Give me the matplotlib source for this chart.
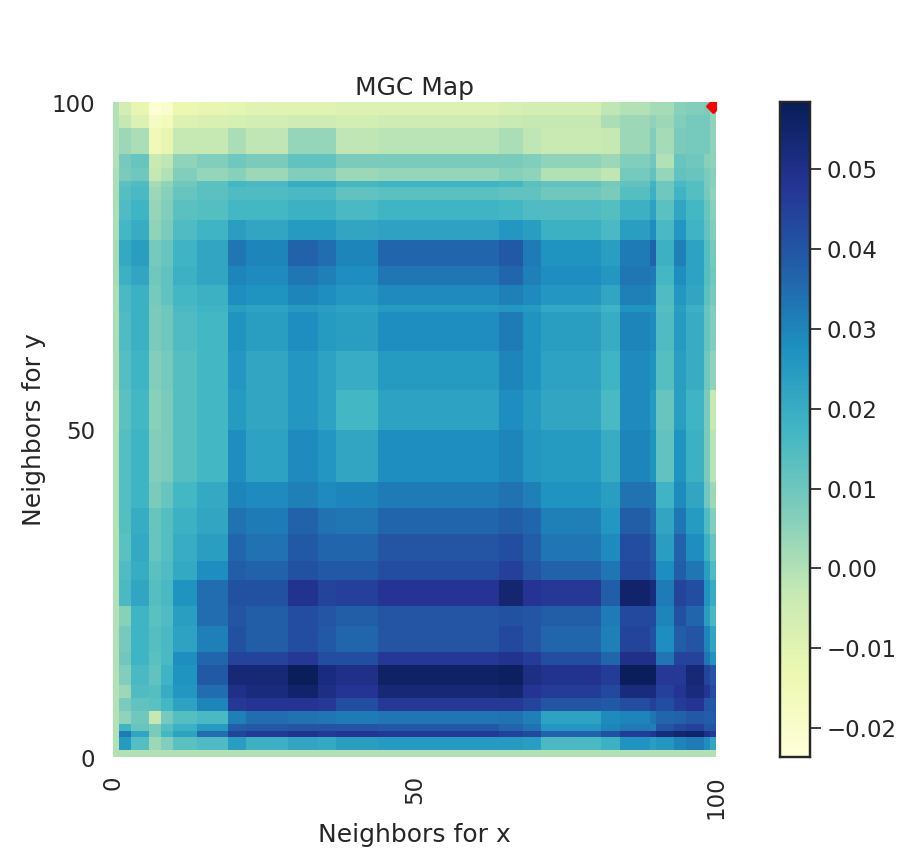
import numpy as np
import matplotlib
matplotlib.use("Agg")
import matplotlib.pyplot as plt
from matplotlib.transforms import ScaledTranslation
import seaborn as sns

sns.set_theme(style="white", font_scale=1.5)

# how many neighbor scales each block of the map spans
x_widths = [1, 2, 3, 2, 2, 4, 5, 3, 7, 5, 3, 7, 20, 4, 3, 10, 3, 5, 1, 3, 2, 3, 1, 1]
y_widths = [2, 2, 4, 2, 2, 1, 2, 3, 3, 4, 3, 3, 1, 6, 6, 6, 8, 4, 4, 4, 3, 4, 3, 4, 2, 3, 2, 2, 2, 1, 1, 2, 1]

# statistic x 1000, top row of the picture first
map_top_down = [
    [0, -6, -12, -22, -20, -13, -12, -11, -10, -10, -10, -9, -9, -7, -6, -6, -2, 0, 2, 2, 6, 7, 8, 4],
    [0, -3, -9, -18, -16, -9, -8, -7, -6, -5, -5, -6, -5, -4, -3, -3, 1, 3, 5, 3, 7, 9, 9, 5],
    [0, 3, 1, -15, -12, -3, -3, 1, -2, 4, 4, -2, -1, 1, -2, -4, -3, 3, 7, 2, 8, 9, 9, 5],
    [0, 9, 11, -4, -2, 5, 7, 10, 8, 12, 12, 8, 8, 8, 7, 5, 3, 7, 10, 0, 11, 10, 6, 5],
    [1, 8, 10, -3, 0, 7, 4, 6, 3, 7, 7, 3, 4, 6, 5, 0, -2, 9, 12, 4, 12, 11, 8, 6],
    [1, 13, 15, 2, 5, 10, 13, 17, 16, 20, 20, 17, 18, 17, 13, 12, 9, 12, 18, 10, 16, 14, 8, 6],
    [1, 14, 16, 3, 6, 11, 13, 15, 15, 16, 16, 12, 13, 12, 12, 10, 8, 14, 19, 10, 18, 14, 9, 5],
    [1, 15, 18, 4, 7, 13, 14, 17, 17, 19, 19, 16, 18, 17, 15, 15, 14, 19, 23, 13, 22, 17, 11, 6],
    [1, 17, 20, 5, 8, 15, 18, 24, 22, 25, 25, 22, 23, 26, 24, 19, 16, 24, 28, 16, 26, 18, 12, 7],
    [2, 21, 24, 9, 11, 18, 22, 33, 30, 37, 35, 30, 36, 39, 32, 27, 24, 32, 37, 19, 31, 23, 14, 9],
    [2, 19, 22, 10, 12, 19, 22, 30, 29, 33, 31, 28, 33, 36, 31, 28, 26, 33, 32, 17, 28, 23, 14, 10],
    [1, 16, 19, 9, 12, 17, 19, 28, 27, 30, 28, 26, 29, 31, 29, 26, 22, 31, 30, 15, 26, 22, 13, 9],
    [1, 16, 19, 8, 10, 16, 18, 24, 23, 25, 24, 23, 25, 26, 25, 21, 18, 27, 27, 14, 24, 19, 11, 7],
    [1, 15, 19, 8, 10, 15, 17, 27, 24, 28, 25, 24, 28, 32, 27, 24, 20, 30, 29, 15, 25, 20, 11, 7],
    [1, 14, 18, 7, 9, 14, 17, 26, 22, 26, 23, 20, 25, 30, 27, 23, 18, 29, 27, 14, 24, 20, 10, 5],
    [0, 13, 17, 6, 8, 14, 17, 25, 22, 26, 23, 17, 23, 28, 25, 22, 16, 29, 25, 11, 24, 18, 8, -3],
    [0, 14, 18, 7, 8, 14, 17, 28, 23, 29, 26, 22, 28, 30, 26, 25, 20, 30, 27, 12, 27, 19, 8, -1],
    [0, 14, 18, 8, 11, 17, 21, 30, 29, 31, 29, 30, 32, 34, 31, 27, 24, 34, 33, 18, 29, 22, 10, 3],
    [0, 14, 20, 11, 14, 19, 22, 34, 32, 37, 34, 33, 36, 38, 36, 31, 26, 38, 35, 22, 33, 25, 15, 7],
    [0, 13, 21, 11, 14, 20, 24, 36, 34, 39, 36, 36, 40, 42, 38, 33, 29, 42, 38, 24, 37, 28, 19, 11],
    [0, 15, 20, 13, 15, 21, 28, 38, 37, 41, 39, 39, 42, 45, 40, 37, 33, 43, 40, 28, 38, 33, 24, 15],
    [0, 16, 22, 14, 16, 27, 35, 41, 41, 49, 44, 45, 48, 54, 48, 47, 38, 55, 52, 32, 44, 42, 27, 20],
    [0, 6, 18, 13, 15, 24, 35, 40, 38, 42, 40, 38, 40, 41, 40, 38, 32, 43, 43, 30, 41, 36, 24, 16],
    [0, 9, 18, 14, 16, 23, 31, 41, 38, 42, 39, 36, 40, 43, 40, 36, 31, 44, 41, 28, 38, 40, 30, 22],
    [0, 10, 18, 13, 16, 28, 36, 44, 44, 47, 42, 42, 47, 49, 46, 42, 36, 50, 50, 33, 44, 44, 33, 27],
    [0, 7, 16, 12, 18, 27, 39, 53, 53, 58, 52, 50, 56, 57, 51, 49, 46, 58, 58, 47, 47, 53, 44, 40],
    [0, 3, 15, 14, 20, 26, 35, 50, 52, 55, 51, 48, 53, 54, 48, 46, 43, 52, 52, 45, 48, 52, 48, 42],
    [0, 8, 12, 13, 17, 23, 30, 47, 48, 48, 47, 42, 47, 47, 44, 40, 39, 42, 45, 42, 46, 48, 40, 39],
    [0, 5, 10, -3, 9, 14, 16, 31, 35, 34, 33, 32, 33, 34, 31, 23, 29, 30, 33, 36, 37, 39, 38, 38],
    [0, 18, 11, 8, 14, 19, 25, 38, 39, 40, 40, 40, 39, 36, 34, 26, 30, 32, 31, 40, 43, 45, 40, 40],
    [0, 32, 22, 8, 17, 23, 35, 44, 47, 49, 47, 48, 47, 45, 43, 37, 41, 46, 48, 52, 54, 55, 50, 47],
    [0, 25, 14, 3, 7, 13, 15, 24, 19, 22, 21, 24, 25, 25, 24, 16, 19, 27, 24, 26, 30, 32, 28, 22],
    [0, 0, 0, 0, 0, 0, 0, 0, 0, 0, 0, 0, 0, 0, 0, 0, 0, 0, 0, 0, 0, 0, 0, 0],
]

scale_ticks = [0, 50, 100]
optimal_scale = [99.5, 99.4]
stat_min = -0.0236
stat_max = 0.0584

mgc_map = np.array(map_top_down) / 1000
mgc_map = np.repeat(np.repeat(mgc_map, y_widths, axis=0), x_widths, axis=1)
mgc_map = np.flipud(mgc_map)

fig = plt.figure(figsize=(9, 8.5), dpi=100)
ax = fig.add_axes([113 / 900, 93 / 850, 603 / 900, 655 / 850])
cax = fig.add_axes([780 / 900, 93 / 850, 30 / 900, 655 / 850])

sns.heatmap(mgc_map, ax=ax, cbar_ax=cax, cmap="YlGnBu", vmin=stat_min, vmax=stat_max)
ax.invert_yaxis()

ax.set_xticks(scale_ticks)
ax.set_xticklabels(scale_ticks, rotation=90)
ax.set_yticks(scale_ticks)
ax.set_yticklabels(scale_ticks, rotation=0, va="center")
ax.tick_params(axis="x", pad=7)
ax.tick_params(axis="y", pad=7)
ax.set_xlabel("Neighbors for x", labelpad=3)
ax.set_ylabel("Neighbors for y", labelpad=4)
ax.set_title("MGC Map", fontsize=18, pad=5)
ax.plot(optimal_scale[0], optimal_scale[1], marker="D", markersize=7, color="red", linestyle="none")

# y tick labels sit a little under their ticks
nudge = ScaledTranslation(0, -2.5 / 72, fig.dpi_scale_trans)
for label in ax.get_yticklabels():
    label.set_transform(label.get_transform() + nudge)

cax.tick_params(right=True, length=8, width=1.25, pad=4)
for spine in cax.spines.values():
    spine.set_visible(True)
    spine.set_linewidth(1.6)
    spine.set_color(".15")

fig.savefig("out.png")
